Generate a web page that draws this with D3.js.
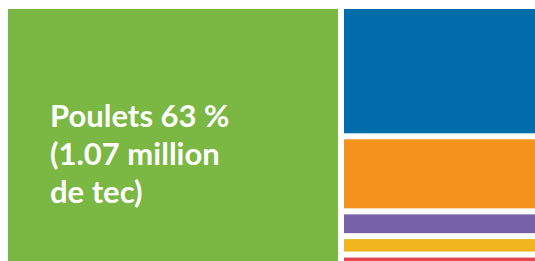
<!DOCTYPE html>
<html>
<head>
<meta charset="utf-8">
<script src="https://cdn.jsdelivr.net/npm/d3@7"></script>
<style>
  body{margin:0;background:#fff;overflow:hidden;}
</style>
</head>
<body>
<svg id="display" width="535" height="261"></svg>
<script>
// data (shares of production, %)
const main_name="Poulets";
const main_value=63;
const other_names=["Dindes","Canards","Pintades","Cailles","Autres"];
const other_values=[18.4,10.6,3.5,2.6,1.9];
const colors=["#7ab743","#006dab","#f6921e","#7762a9","#f0b41c","#e5474f"];
const label_lines=["Poulets 63 %","(1.07 million","de tec)"];

const display=d3.select("#display");
const x_point=8.0
const y_point=9.0
const layout_width=527.3
const layout_height=256.0

// build hierarchy: big block on the left, the rest stacked on the right
const tree_data={name:"root",children:[
    {name:main_name,value:main_value,color:colors[0]},
    {name:"others",children:other_names.map((n,i)=>({name:n,value:other_values[i],color:colors[i+1]}))}
]};
const root=d3.hierarchy(tree_data).sum(d=>d.value||0);
d3.treemap()
    .tile(d3.treemapSliceDice)
    .size([layout_width,layout_height])
    .paddingInner(6)
    (root);

const g=display.append("g").attr("transform","translate("+x_point+","+y_point+")");
for (const leaf of root.leaves()){
    g.append("rect")
        .attr("id","cell_"+leaf.data.name)
        .attr("x",leaf.x0)
        .attr("y",leaf.y0)
        .attr("width",leaf.x1-leaf.x0)
        .attr("height",leaf.y1-leaf.y0)
        .attr("fill",leaf.data.color);
}

// label of the big block, one text per line
const main_leaf=root.leaves()[0];
label_lines.forEach((t,i)=>{
    g.append("text")
        .attr("x",main_leaf.x0+42)
        .attr("y",main_leaf.y0+118+i*38)
        .style("font-family","Lato")
        .style("font-weight","700")
        .style("font-size","31px")
        .style("fill","#fff")
        .text(t);
});
</script>
</body>
</html>
